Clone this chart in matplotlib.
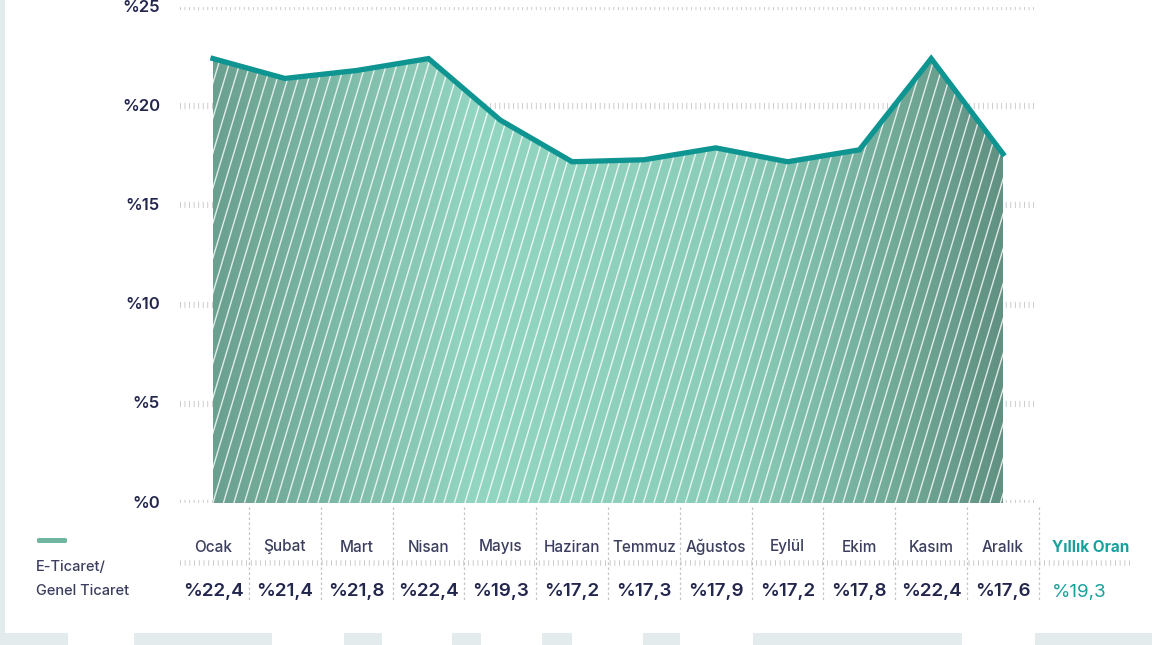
import matplotlib
matplotlib.use("Agg")
import matplotlib.pyplot as plt
import matplotlib.transforms as mtransforms
from matplotlib.collections import LineCollection
from matplotlib.colors import LinearSegmentedColormap
from matplotlib.patches import Rectangle, FancyBboxPatch
import numpy as np

months = ["Ocak", "Şubat", "Mart", "Nisan", "Mayıs", "Haziran", "Temmuz",
          "Ağustos", "Eylül", "Ekim", "Kasım", "Aralık"]
ratio = [22.4, 21.4, 21.8, 22.4, 19.3, 17.2, 17.3, 17.9, 17.2, 17.8, 22.4, 17.6]
value_labels = ["%22,4", "%21,4", "%21,8", "%22,4", "%19,3", "%17,2", "%17,3",
                "%17,9", "%17,2", "%17,8", "%22,4", "%17,6"]
annual_label = "Yıllık Oran"
annual_value = "%19,3"
yticks = [0, 5, 10, 15, 20, 25]

plt.rcParams['font.family'] = ['Inter', 'DejaVu Sans']

W, H = 1152, 645
fig = plt.figure(figsize=(W / 100, H / 100), dpi=100)
fig.patch.set_facecolor("white")

# axes geometry in pixels (value 0 at y=503, 25 at y=7; Ocak at x=213, Aralik at x=1003)
x_first, x_last = 213, 1003
step = (x_last - x_first) / 11
ax_left, ax_right = 180, 1035
y0_px, y25_px = 503, 7
ax = fig.add_axes([ax_left / W, 1 - y0_px / H, (ax_right - ax_left) / W, (y0_px - y25_px) / H])
ax.set_xlim(-(x_first - ax_left) / step, 11 + (ax_right - x_last) / step)
ax.set_ylim(0, 25)
ax.axis("off")

x = np.arange(len(months))
navy = "#23264d"
label_col = "#3b3e5e"
teal = "#17a09b"
grid_col = "#c2c2c2"

# dotted-tick style grid
for t in yticks:
    ax.axhline(t, color=grid_col, lw=4.5, dashes=(0.13, 0.6), zorder=0.5)
    ax.text(-(x_first - 160) / step, t, "%" + str(t), ha="right", va="center",
            fontsize=12, color=navy, fontweight="semibold")

# gradient fill clipped to the area
poly = ax.fill_between(x, ratio, 0, color="none", lw=0, zorder=1)
cmap = LinearSegmentedColormap.from_list("g", ["#669d8c", "#8fd5c0", "#86cbb6", "#5c8e7e"])
grad = np.linspace(0, 1, 256).reshape(1, -1)
im = ax.imshow(grad, cmap=cmap, aspect="auto", extent=[0, 11, 0, 25], zorder=1, alpha=0.97)
clip = poly.get_paths()[0]
im.set_clip_path(clip, transform=ax.transData)

# steep white hatch lines
px_per_y = (y0_px - y25_px) / 25
dx = 0.3 * 25 * px_per_y / step
spacing = 10.5 / step
starts = np.arange(-dx - 1, 12, spacing)
segs = [[(s, 0), (s + dx, 25)] for s in starts]
lc = LineCollection(segs, colors="white", linewidths=1.0, alpha=0.8, zorder=2)
ax.add_collection(lc)
lc.set_clip_path(clip, transform=ax.transData)

ax.plot(x, ratio, color="#0e9491", lw=3.8, solid_joinstyle="miter", zorder=3)

# table below the chart
bt = mtransforms.blended_transform_factory(ax.transData, fig.transFigure)
fy = lambda p: 1 - p / H
for i, m in enumerate(months):
    ax.text(i, fy(547), m, transform=bt, ha="center", va="center", fontsize=11,
            color=label_col, fontweight="medium", clip_on=False)
    ax.text(i, fy(592), value_labels[i], transform=bt, ha="center", va="center",
            fontsize=13.5, color=navy, fontweight="semibold", clip_on=False)
for i in range(len(months)):
    ax.plot([i + 0.5, i + 0.5], [fy(507), fy(600)], transform=bt, color="#c4c4c4",
            lw=0.9, dashes=(2, 2), clip_on=False)
x_annual = 11 + (1091 - x_last) / step
ax.text(x_annual, fy(547), annual_label, transform=bt, ha="center", va="center",
        fontsize=11, color=teal, fontweight="bold", clip_on=False)
ax.text(11 + (1079 - x_last) / step, fy(592), annual_value, transform=bt, ha="center",
        va="center", fontsize=13.5, color=teal, clip_on=False)
ax.plot([-(x_first - ax_left) / step, 11 + (1130 - x_last) / step], [fy(563), fy(563)],
        transform=bt, color=grid_col, lw=4, dashes=(0.15, 0.7), clip_on=False)

# legend
fig.patches.append(FancyBboxPatch((37 / W, fy(543)), 30 / W, 5 / H,
                                  boxstyle="round,pad=0,rounding_size=0.002",
                                  transform=fig.transFigure, facecolor="#6fb5a0",
                                  edgecolor="none"))
fig.text(36 / W, fy(567), "E-Ticaret/", ha="left", va="center", fontsize=10.5,
         color=label_col, fontweight="medium")
fig.text(36 / W, fy(591), "Genel Ticaret", ha="left", va="center", fontsize=10.5,
         color=label_col, fontweight="medium")

# page border
frame = "#e3ebed"
fig.patches.append(Rectangle((0, 0), 5 / W, 1, transform=fig.transFigure,
                             facecolor=frame, edgecolor="none"))
fig.patches.append(Rectangle((0, 0), 1, 12 / H, transform=fig.transFigure,
                             facecolor=frame, edgecolor="none"))
for a, b in [(68, 134), (272, 344), (382, 452), (481, 542), (572, 643), (680, 753), (962, 1035)]:
    fig.patches.append(Rectangle((a / W, 0), (b - a) / W, 12 / H, transform=fig.transFigure,
                                 facecolor="white", edgecolor="none"))

fig.savefig("out.png", dpi=100, facecolor="white")
